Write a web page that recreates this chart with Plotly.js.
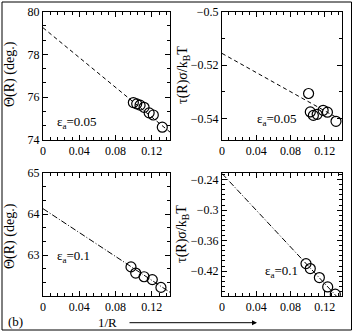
<!DOCTYPE html>
<html>
<head>
<meta charset="utf-8">
<script src="https://cdn.plot.ly/plotly-3.0.1.min.js"></script>
<style>html,body{margin:0;padding:0;background:#fff;}#chart{width:354px;height:332px;}</style>
</head>
<body>
<div id="chart"></div>
<script>
// ---- data ----
const xTickVals = [0, 0.04, 0.08, 0.12];
const xTickText = ["0", "0.04", "0.08", "0.12"];

// top-left: Theta(R), eps_a = 0.05
const invR_tl  = [0.0996, 0.1033, 0.1070, 0.1114, 0.1170, 0.1216, 0.1315];
const theta_tl = [75.75, 75.69, 75.63, 75.53, 75.27, 75.17, 74.60];
const fitX_tl  = [0, 0.14];
const fitY_tl  = [79.25, 74.37];
const yTicks_tl = [74, 76, 78, 80];

// top-right: tau(R), eps_a = 0.05
const invR_tr = [0.1010, 0.1030, 0.1066, 0.1110, 0.1180, 0.1230, 0.1330];
const tau_tr  = [-0.5306, -0.5375, -0.5388, -0.5384, -0.5369, -0.5376, -0.5410];
const fitX_tr = [0, 0.135];
const fitY_tr = [-0.5156, -0.5398];
const yTicks_tr = [-0.54, -0.52, -0.5];

// bottom-left: Theta(R), eps_a = 0.1
const invR_bl  = [0.0970, 0.1022, 0.1114, 0.1205, 0.1300];
const theta_bl = [62.71, 62.56, 62.47, 62.40, 62.21];
const fitX_bl  = [0, 0.14];
const fitY_bl  = [64.13, 62.09];
const yTicks_bl = [63, 64, 65];

// bottom-right: tau(R), eps_a = 0.1
const invR_br = [0.0980, 0.1030, 0.1136, 0.1233, 0.1322];
const tau_br  = [-0.4053, -0.4150, -0.4327, -0.4512, -0.4655];
const fitX_br = [0, 0.14];
const fitY_br = [-0.228, -0.481];
const yTicks_br = [-0.42, -0.36, -0.3, -0.24];

// ---- layout helpers ----
const W = 354, H = 332;
const px = v => v / W;
const py = v => 1 - v / H;
const FONT = '"Liberation Serif", "Times New Roman", serif';

function xaxis(dom, anchor) {
  return {
    domain: dom, anchor: anchor, range: [0, 0.14],
    tickmode: "array", tickvals: xTickVals, ticktext: xTickText,
    ticks: "inside", ticklen: 5, tickwidth: 1, tickcolor: "#000",
    showline: true, linecolor: "#000", linewidth: 1, mirror: "ticks",
    showgrid: false, zeroline: false,
    tickfont: {family: FONT, size: 12, color: "#000"},
    minor: {dtick: 0.008, tick0: 0, ticks: "inside", ticklen: 3, tickwidth: 1, tickcolor: "#000", showgrid: false}
  };
}
function yaxis(dom, anchor, range, tickvals, minorDtick, minorTick0) {
  return {
    domain: dom, anchor: anchor, range: range,
    tickmode: "array", tickvals: tickvals,
    ticks: "inside", ticklen: 5, tickwidth: 1, tickcolor: "#000",
    showline: true, linecolor: "#000", linewidth: 1, mirror: "ticks",
    showgrid: false, zeroline: false,
    tickfont: {family: FONT, size: 12, color: "#000"},
    minor: {dtick: minorDtick, tick0: minorTick0, ticks: "inside", ticklen: 3, tickwidth: 1, tickcolor: "#000", showgrid: false}
  };
}

const xL = [px(43), px(170)], xR = [px(222), px(342)];
const yT = [py(140), py(11.7)], yB = [py(296), py(173)];

const marker = {symbol: "circle-open", size: 10, color: "#000", line: {width: 1.2, color: "#000"}};

const traces = [
  {x: fitX_tl, y: fitY_tl, xaxis: "x", yaxis: "y", mode: "lines", line: {color: "#000", width: 1, dash: "4px,3px"}},
  {x: invR_tl, y: theta_tl, xaxis: "x", yaxis: "y", mode: "markers", marker: marker},
  {x: fitX_tr, y: fitY_tr, xaxis: "x2", yaxis: "y2", mode: "lines", line: {color: "#000", width: 1, dash: "4px,3px"}},
  {x: invR_tr, y: tau_tr, xaxis: "x2", yaxis: "y2", mode: "markers", marker: marker},
  {x: fitX_bl, y: fitY_bl, xaxis: "x3", yaxis: "y3", mode: "lines", line: {color: "#000", width: 1, dash: "6px,2px,1px,2px"}},
  {x: invR_bl, y: theta_bl, xaxis: "x3", yaxis: "y3", mode: "markers", marker: marker},
  {x: fitX_br, y: fitY_br, xaxis: "x4", yaxis: "y4", mode: "lines", line: {color: "#000", width: 1, dash: "6px,2px,1px,2px"}},
  {x: invR_br, y: tau_br, xaxis: "x4", yaxis: "y4", mode: "markers", marker: marker}
];

const ann = (x, y, text, extra) => Object.assign({
  xref: "paper", yref: "paper", x: px(x), y: py(y), text: text, showarrow: false,
  font: {family: FONT, size: 13, color: "#000"}, xanchor: "center", yanchor: "middle"
}, extra || {});
const titleFont = {family: FONT, size: 14, color: "#000"};

const layout = {
  width: W, height: H,
  margin: {l: 0, r: 0, t: 0, b: 0},
  paper_bgcolor: "#fff", plot_bgcolor: "#fff",
  font: {family: FONT, size: 13, color: "#000"},
  showlegend: false,
  xaxis: xaxis(xL, "y"),
  yaxis: yaxis(yT, "x", [74, 80], yTicks_tl, 2/3, 74),
  xaxis2: xaxis(xR, "y2"),
  yaxis2: yaxis(yT, "x2", [-0.548, -0.5], yTicks_tr, 0.01, -0.5),
  xaxis3: xaxis(xL, "y3"),
  yaxis3: yaxis(yB, "x3", [62, 65], yTicks_bl, 1/3, 62),
  xaxis4: xaxis(xR, "y4"),
  yaxis4: yaxis(yB, "x4", [-0.469, -0.227], yTicks_br, 0.01, -0.24),
  annotations: [
    ann(10, 74, "Θ(R) (deg.)", {textangle: -90, font: titleFont}),
    ann(10, 236, "Θ(R) (deg.)", {textangle: -90, font: titleFont}),
    ann(183, 75, "τ(R)σ/k<sub>B</sub>T", {textangle: -90, font: titleFont}),
    ann(182, 234, "τ(R)σ/k<sub>B</sub>T", {textangle: -90, font: titleFont}),
    ann(55, 122, "ε<sub>a</sub>=0.05", {xanchor: "left"}),
    ann(255, 119, "ε<sub>a</sub>=0.05", {xanchor: "left"}),
    ann(55, 256, "ε<sub>a</sub>=0.1", {xanchor: "left"}),
    ann(263, 271, "ε<sub>a</sub>=0.1", {xanchor: "left"}),
    ann(15, 321, "(b)"),
    ann(107, 322, "1/R"),
    {xref: "paper", yref: "paper", x: px(257), y: py(322.7), ax: -129, ay: 0, text: "",
     showarrow: true, arrowhead: 2, arrowsize: 1, arrowwidth: 1, arrowcolor: "#000"}
  ],
  shapes: [
    {type: "rect", xref: "paper", yref: "paper", x0: px(2), x1: px(351.5), y0: py(330), y1: py(2),
     line: {color: "#000", width: 1}}
  ]
};

Plotly.newPlot("chart", traces, layout, {staticPlot: true, displayModeBar: false});
</script>
</body>
</html>
